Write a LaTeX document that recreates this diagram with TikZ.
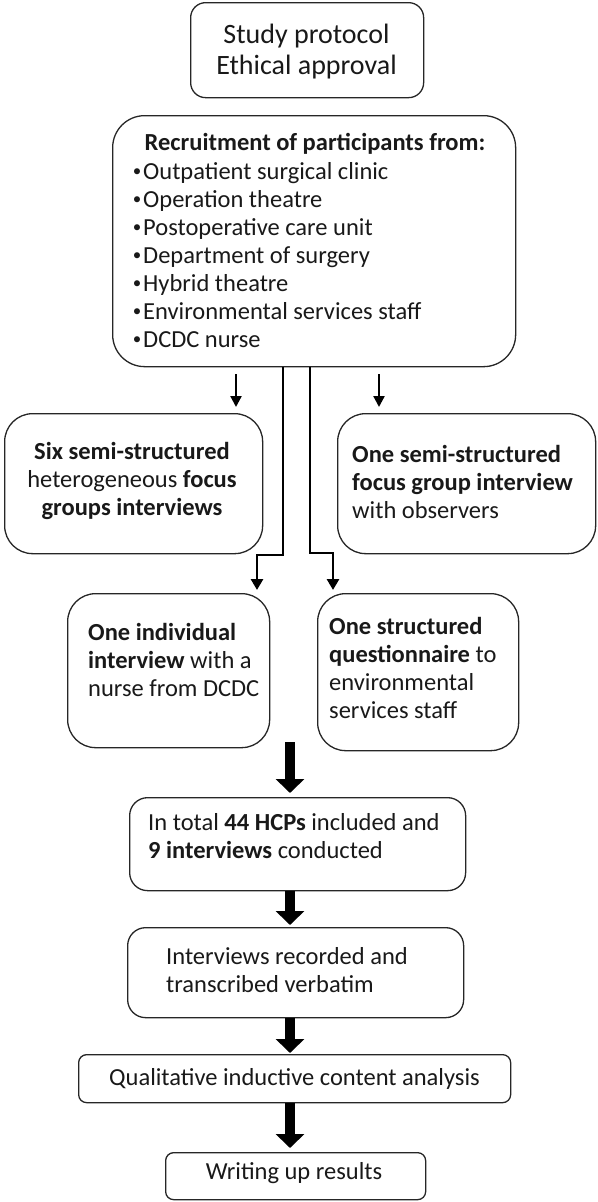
\documentclass[tikz,border=0pt]{standalone}
\usepackage{fontspec}
\setmainfont{Carlito}
\usetikzlibrary{arrows.meta}
\newcommand{\blt}{\makebox[12pt][c]{\raisebox{2.5pt}{\fontsize{17}{17}\selectfont •}}}
\begin{document}
\begin{tikzpicture}[x=1pt,y=1pt,
  box/.style={draw=black!85, line width=1.3pt, fill=white, inner sep=0pt, anchor=north west},
  txt/.style={inner sep=0pt, font=\fontsize{24.5}{28}\selectfont, text=black!90, align=left},
  bigtxt/.style={inner sep=0pt, font=\fontsize{28}{31}\selectfont, text=black!90, align=center},
  thinarrow/.style={draw=black, line width=2.3pt, -{Triangle[width=11pt,length=11pt]}},
  conn/.style={draw=black, line width=2.8pt, -{Triangle[width=12pt,length=11pt]}},
  bigarrow/.style={draw=black, line width=10pt, -{Triangle[width=28pt,length=14pt]}}]
\useasboundingbox (0,0) rectangle (597,-1202);

% boxes
\node[box, rounded corners=15pt, minimum width=233pt, minimum height=95pt] (b1) at (190,-2) {};
\node[box, rounded corners=32pt, minimum width=403pt, minimum height=251pt] (b2) at (112,-115) {};
\node[box, rounded corners=28pt, minimum width=258pt, minimum height=140pt] (b3) at (4,-413) {};
\node[box, rounded corners=28pt, minimum width=258pt, minimum height=140pt] (b4) at (337,-413) {};
\node[box, rounded corners=28pt, minimum width=202pt, minimum height=154pt] (b5) at (67,-593) {};
\node[box, rounded corners=28pt, minimum width=201pt, minimum height=157pt] (b6) at (317,-593) {};
\node[box, rounded corners=18pt, minimum width=336pt, minimum height=93pt] (b7) at (129,-797) {};
\node[box, rounded corners=18pt, minimum width=336pt, minimum height=90pt] (b8) at (127,-927) {};
\node[box, rounded corners=8pt, minimum width=432pt, minimum height=48pt] (b9) at (78,-1054) {};
\node[box, rounded corners=8pt, minimum width=260pt, minimum height=47pt] (b10) at (165,-1152) {};

% texts
\node[bigtxt, anchor=north] (t1) at (306.5,-21.3) {\strut Study protocol\\Ethical approval};
\node[txt, anchor=north] (t2a) at (315,-130.4) {\strut\textbf{Recruitment of participants from:}};
\node[txt, anchor=north west] (t2b) at (131,-159.4) {\strut\blt Outpatient surgical clinic\\\blt Operation theatre\\\blt Postoperative care unit\\\blt Department of surgery\\\blt Hybrid theatre\\\blt Environmental services staff\\\blt DCDC nurse};
\node[txt, align=center, anchor=north] (t3) at (132,-439.4) {\strut\textbf{Six semi-structured}\\heterogeneous \textbf{focus}\\\textbf{groups interviews}};
\node[txt, anchor=north west] (t4) at (352,-442.4) {\strut\textbf{One semi-structured}\\\textbf{focus group interview}\\with observers};
\node[txt, anchor=north west] (t5) at (88,-620.4) {\strut\textbf{One individual}\\\textbf{interview} with a\\nurse from DCDC};
\node[txt, anchor=north west] (t6) at (329,-614.4) {\strut\textbf{One structured}\\\textbf{questionnaire} to\\environmental\\services staff};
\node[txt, anchor=north west] (t7) at (148,-810.4) {\strut In total \textbf{44 HCPs} included and\\\textbf{9 interviews} conducted};
\node[txt, anchor=north west] (t8) at (166,-944.4) {\strut Interviews recorded and\\transcribed verbatim};
\node[txt, anchor=base] (t9) at (294.5,-1085) {Qualitative inductive content analysis};
\node[txt, anchor=base] (t10) at (294,-1179) {Writing up results};

% connector coordinates
\coordinate (cL) at (236,0);
\coordinate (cR) at (379,0);
\coordinate (kL) at (283,-555);
\coordinate (kL2) at (257,-555);
\coordinate (kR) at (310,-553);
\coordinate (kR2) at (333,-553);
\coordinate (ax) at (290,0);
\coordinate (s0) at (290,-742);

% thin arrows
\draw[thinarrow, shorten <=7pt, shorten >=6pt] (b2.south -| cL) -- (b3.north -| cL);
\draw[thinarrow, shorten <=7pt, shorten >=6pt] (b2.south -| cR) -- (b4.north -| cR);

% elbow connectors
\draw[conn, shorten >=3pt] (b2.south -| kL) -- (kL) -- (kL2) -- (b5.north -| kL2);
\draw[conn, shorten >=3pt] (b2.south -| kR) -- (kR) -- (kR2) -- (b6.north -| kR2);

% thick arrows
\draw[bigarrow, shorten >=4pt] (s0) -- (b7.north -| s0);
\draw[bigarrow, shorten >=2pt] (b7.south -| ax) -- (b8.north -| ax);
\draw[bigarrow, shorten >=1pt] (b8.south -| ax) -- (b9.north -| ax);
\draw[bigarrow, shorten >=4pt] (b9.south -| ax) -- (b10.north -| ax);
\end{tikzpicture}
\end{document}
